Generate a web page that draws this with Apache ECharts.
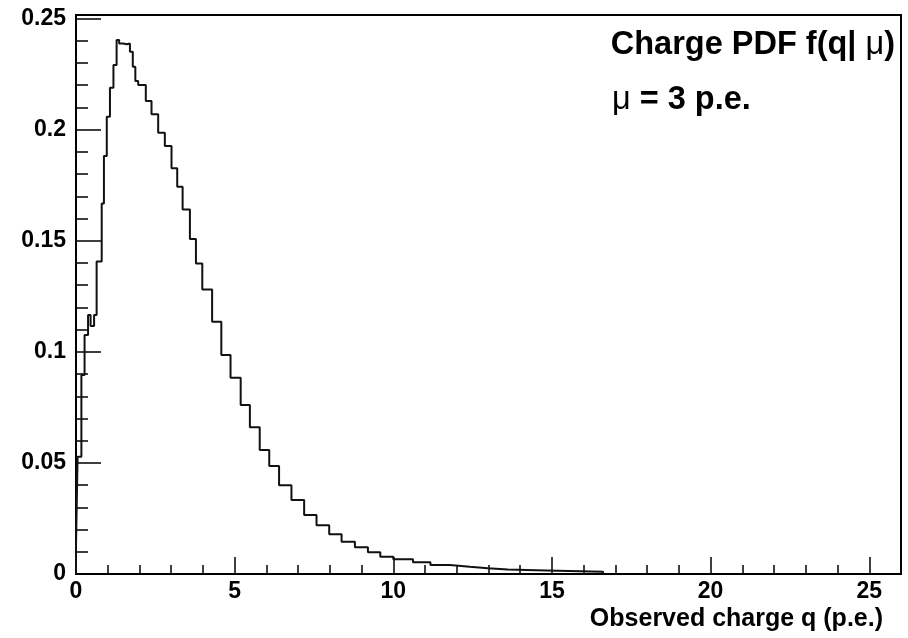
<!DOCTYPE html>
<html>
<head>
<meta charset="utf-8">
<script src="https://cdn.jsdelivr.net/npm/echarts@6/dist/echarts.min.js"></script>
<style>
  html, body { margin: 0; padding: 0; background: #fff; }
  #chart { width: 908px; height: 638px; }
</style>
</head>
<body>
<div id="chart"></div>
<script>
// bin edges (p.e.) and bin contents
const binEdges = [
  0, 0.05, 0.17, 0.27, 0.38, 0.46, 0.57, 0.65, 0.81, 0.88, 0.97,
  1.07, 1.18, 1.28, 1.36, 1.49, 1.6, 1.7, 1.79, 1.87, 1.96,
  2.2, 2.38, 2.59, 2.8, 3.01, 3.19, 3.36, 3.59, 3.78, 3.98,
  4.29, 4.58, 4.87, 5.19, 5.48, 5.79, 6.09, 6.4, 6.79, 7.19,
  7.58, 7.98, 8.37, 8.79, 9.2, 9.59, 10.0, 10.62, 11.17, 11.78,
  12.41, 12.98, 13.61, 14.82, 16.61
]
const binValues = [
  0.0127, 0.0528, 0.0896, 0.1076, 0.1166, 0.1116, 0.1166, 0.1406, 0.1668, 0.1881,
  0.2058, 0.2189, 0.2291, 0.2403, 0.2388, 0.2384, 0.2388, 0.2351, 0.2283, 0.2219,
  0.2201, 0.2129, 0.2069, 0.1986, 0.1926, 0.1826, 0.1743, 0.1641, 0.1508, 0.1398,
  0.1281, 0.1135, 0.0986, 0.0883, 0.0761, 0.0660, 0.0558, 0.0486, 0.0399, 0.0333,
  0.0266, 0.0219, 0.0179, 0.0145, 0.0120, 0.0098, 0.0078, 0.0066, 0.0053, 0.0041,
  0.0033, 0.0026, 0.0020, 0.0016, 0.0010
]
const xTicks = { min: 0, max: 26, interval: 5 }
const yTicks = { min: 0, max: 0.2516, interval: 0.05 }

const titleText = 'Charge PDF f(q| '
const muText = 'μ'
const paramText = ' = 3 p.e.'
const xTitle = 'Observed charge q (p.e.)'

// step points: left edge -> bin value, then close down to zero
const steps = [[binEdges[0], 0]]
binValues.forEach((v, i) => steps.push([binEdges[i], v]))
steps.push([binEdges[binEdges.length - 1], binValues[binValues.length - 1]])
steps.push([binEdges[binEdges.length - 1], 0])

const font = 'Liberation Sans, Arial, Helvetica, sans-serif'
const black = '#000'
const rich = {
  b: { fontFamily: font, fontWeight: 'bold', fontSize: 32.5, fill: black },
  m: { fontFamily: font, fontWeight: 'normal', fontSize: 32.5, fill: black }
}

const chart = echarts.init(document.getElementById('chart'))

chart.setOption({
  animation: false,
  backgroundColor: '#fff',
  grid: {
    left: 76, top: 15, right: 7, bottom: 64,
    show: true, borderColor: black, borderWidth: 2, backgroundColor: 'transparent'
  },
  xAxis: {
    type: 'value',
    min: xTicks.min, max: xTicks.max, interval: xTicks.interval,
    splitLine: { show: false },
    axisLine: { lineStyle: { color: black, width: 2 } },
    axisTick: { inside: true, length: 17, lineStyle: { color: black, width: 1.5 } },
    minorTick: { show: true, splitNumber: 5, length: 9, lineStyle: { color: black, width: 1.5 } },
    axisLabel: {
      color: black, fontFamily: font, fontWeight: 'bold', fontSize: 23,
      margin: 6, showMaxLabel: false
    }
  },
  yAxis: {
    type: 'value',
    min: yTicks.min, max: yTicks.max, interval: yTicks.interval,
    splitLine: { show: false },
    axisLine: { show: true, lineStyle: { color: black, width: 2 } },
    axisTick: { inside: true, length: 25, lineStyle: { color: black, width: 1.5 } },
    minorTick: { show: true, splitNumber: 5, length: 12, lineStyle: { color: black, width: 1.5 } },
    axisLabel: {
      color: black, fontFamily: font, fontWeight: 'bold', fontSize: 23,
      margin: 10, showMaxLabel: false
    }
  },
  series: [
    {
      type: 'line',
      step: 'end',
      data: steps,
      symbol: 'none',
      lineStyle: { color: '#111', width: 2 },
      z: 1
    }
  ],
  graphic: [
    {
      type: 'text', right: 13, top: 29,
      style: { text: '{b|' + titleText + '}{m|' + muText + '}{b|)}', rich: rich }
    },
    {
      type: 'text', left: 612, top: 84,
      style: { text: '{m|' + muText + '}{b|' + paramText + '}', rich: rich }
    },
    {
      type: 'text', right: 25, top: 607,
      style: { text: xTitle, fontFamily: font, fontWeight: 'bold', fontSize: 25, fill: black }
    }
  ]
})
</script>
</body>
</html>
